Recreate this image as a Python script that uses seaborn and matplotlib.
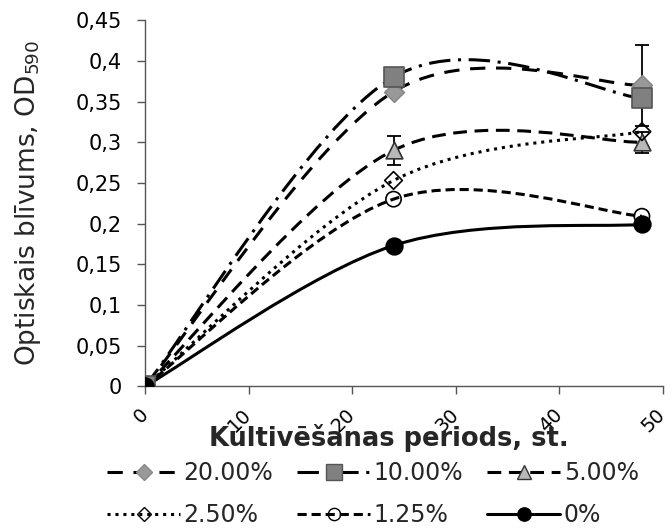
import matplotlib
matplotlib.use('Agg')
import matplotlib.pyplot as plt
import seaborn as sns
import numpy as np
from matplotlib.path import Path
from matplotlib.patches import PathPatch
from matplotlib.lines import Line2D
from matplotlib.ticker import FuncFormatter

sns.set_theme(style="white")
plt.rcParams['font.family'] = ['DejaVu Sans']

# DATA
hours = [0, 24, 48]
labels = ['20.00%', '10.00%', '5.00%', '2.50%', '1.25%', '0%']
od_20 = [0, 0.362, 0.370]
od_10 = [0, 0.380, 0.354]
od_5 = [0, 0.290, 0.300]
od_2_5 = [0, 0.253, 0.313]
od_1_25 = [0, 0.230, 0.209]
od_0 = [0, 0.173, 0.199]
err_20 = [0, 0, 0.050]
err_10 = [0, 0, 0]
err_5 = [0, 0.018, 0.013]
err_2_5 = [0, 0, 0]
err_1_25 = [0, 0, 0]
err_0 = [0, 0, 0]

series = [od_20, od_10, od_5, od_2_5, od_1_25, od_0]
errors = [err_20, err_10, err_5, err_2_5, err_1_25, err_0]

# styles: (linestyle, marker, markersize, facecolor, edgecolor)
styles = [
    ((0, (5, 3.5)), 'D', 10, '#999999', '#888888'),
    ((0, (7, 2.5, 1, 2.5)), 's', 14, '#808080', '#555555'),
    ((0, (4.5, 2.5)), '^', 12, '#b8b8b8', '#333333'),
    ((0, (1, 1.6)), 'D', 9, 'none', '#000000'),
    ((0, (3, 1.6)), 'o', 11, 'none', '#000000'),
    ('-', 'o', 12, '#000000', '#000000'),
]


def smooth_path(x, y):
    # Excel-style smoothed line: cubic Bezier with Catmull-Rom control points
    pts = np.column_stack([x, y]).astype(float)
    n = len(pts)
    verts = [pts[0]]
    codes = [Path.MOVETO]
    for i in range(n - 1):
        p0 = pts[max(i - 1, 0)]
        p1 = pts[i]
        p2 = pts[i + 1]
        p3 = pts[min(i + 2, n - 1)]
        c1 = p1 + (p2 - p0) / 6.0
        c2 = p2 - (p3 - p1) / 6.0
        verts += [c1, c2, p2]
        codes += [Path.CURVE4] * 3
    return Path(verts, codes)


fig = plt.figure(figsize=(6.72, 5.32), dpi=100)
ax = fig.add_axes([0.216, 0.274, 0.770, 0.688])

lw = 2.2
for vals, st in zip(series, styles):
    ls = st[0]
    ax.add_patch(PathPatch(smooth_path(hours, vals), fill=False, lw=lw,
                           ls=ls, ec='black', zorder=2, capstyle='butt'))
for vals, errs, st in zip(series, errors, styles):
    ls, mk, ms, fc, ec = st
    if any(errs):
        ax.errorbar(hours, vals, yerr=errs, fmt='none', ecolor='black',
                    elinewidth=1.3, capsize=5, capthick=1.3, zorder=3)
    if fc == 'none':
        sns.scatterplot(x=hours, y=vals, ax=ax, marker=mk, s=ms ** 2,
                        facecolors='none', edgecolor=ec, linewidth=1.2,
                        zorder=4, legend=False)
    else:
        sns.scatterplot(x=hours, y=vals, ax=ax, marker=mk, s=ms ** 2,
                        color=fc, edgecolor=ec, linewidth=1.2,
                        zorder=4, legend=False)

ax.set_xlim(0, 50)
ax.set_ylim(0, 0.45)
ax.set_xticks(range(0, 51, 10))
ax.set_yticks(np.arange(0, 0.451, 0.05))
ax.yaxis.set_major_formatter(FuncFormatter(lambda v, p: ('%g' % round(v, 2)).replace('.', ',')))
for s in ['top', 'right']:
    ax.spines[s].set_visible(False)
for s in ['left', 'bottom']:
    ax.spines[s].set_color('#555555')
    ax.spines[s].set_linewidth(1.0)
ax.tick_params(axis='both', direction='out', length=6, width=1.0, color='#555555',
               labelsize=15, labelcolor='black', left=True, bottom=True)
ax.tick_params(axis='y', pad=11)
ax.tick_params(axis='x', pad=12, labelsize=14)
plt.setp(ax.get_xticklabels(), rotation=45, ha='right', va='center',
         rotation_mode='anchor')
ax.set_ylabel('Optiskais blīvums, OD$_{590}$', fontsize=19)
ax.yaxis.set_label_coords(-0.197, 0.5)
ax.set_xlabel('Kultivēšanas periods, st.', fontsize=18.5, fontweight='bold')
ax.xaxis.set_label_coords(0.47, -0.104)

handles = []
for lab, st in zip(labels, styles):
    ls, mk, ms, fc, ec = st
    handles.append(Line2D([], [], color='black', lw=lw, ls=ls, marker=mk,
                          markersize=ms * 0.8, markerfacecolor=fc,
                          markeredgecolor=ec, label=lab))
order = [0, 3, 1, 4, 2, 5]
ax.legend([handles[i] for i in order], [labels[i] for i in order],
          loc='upper center', bbox_to_anchor=(0.44, -0.16), ncol=3,
          frameon=False, fontsize=17, handlelength=3.1, handletextpad=0.15,
          columnspacing=1.0, labelspacing=0.75, borderpad=0.2)

fig.savefig('out.png', dpi=100)
